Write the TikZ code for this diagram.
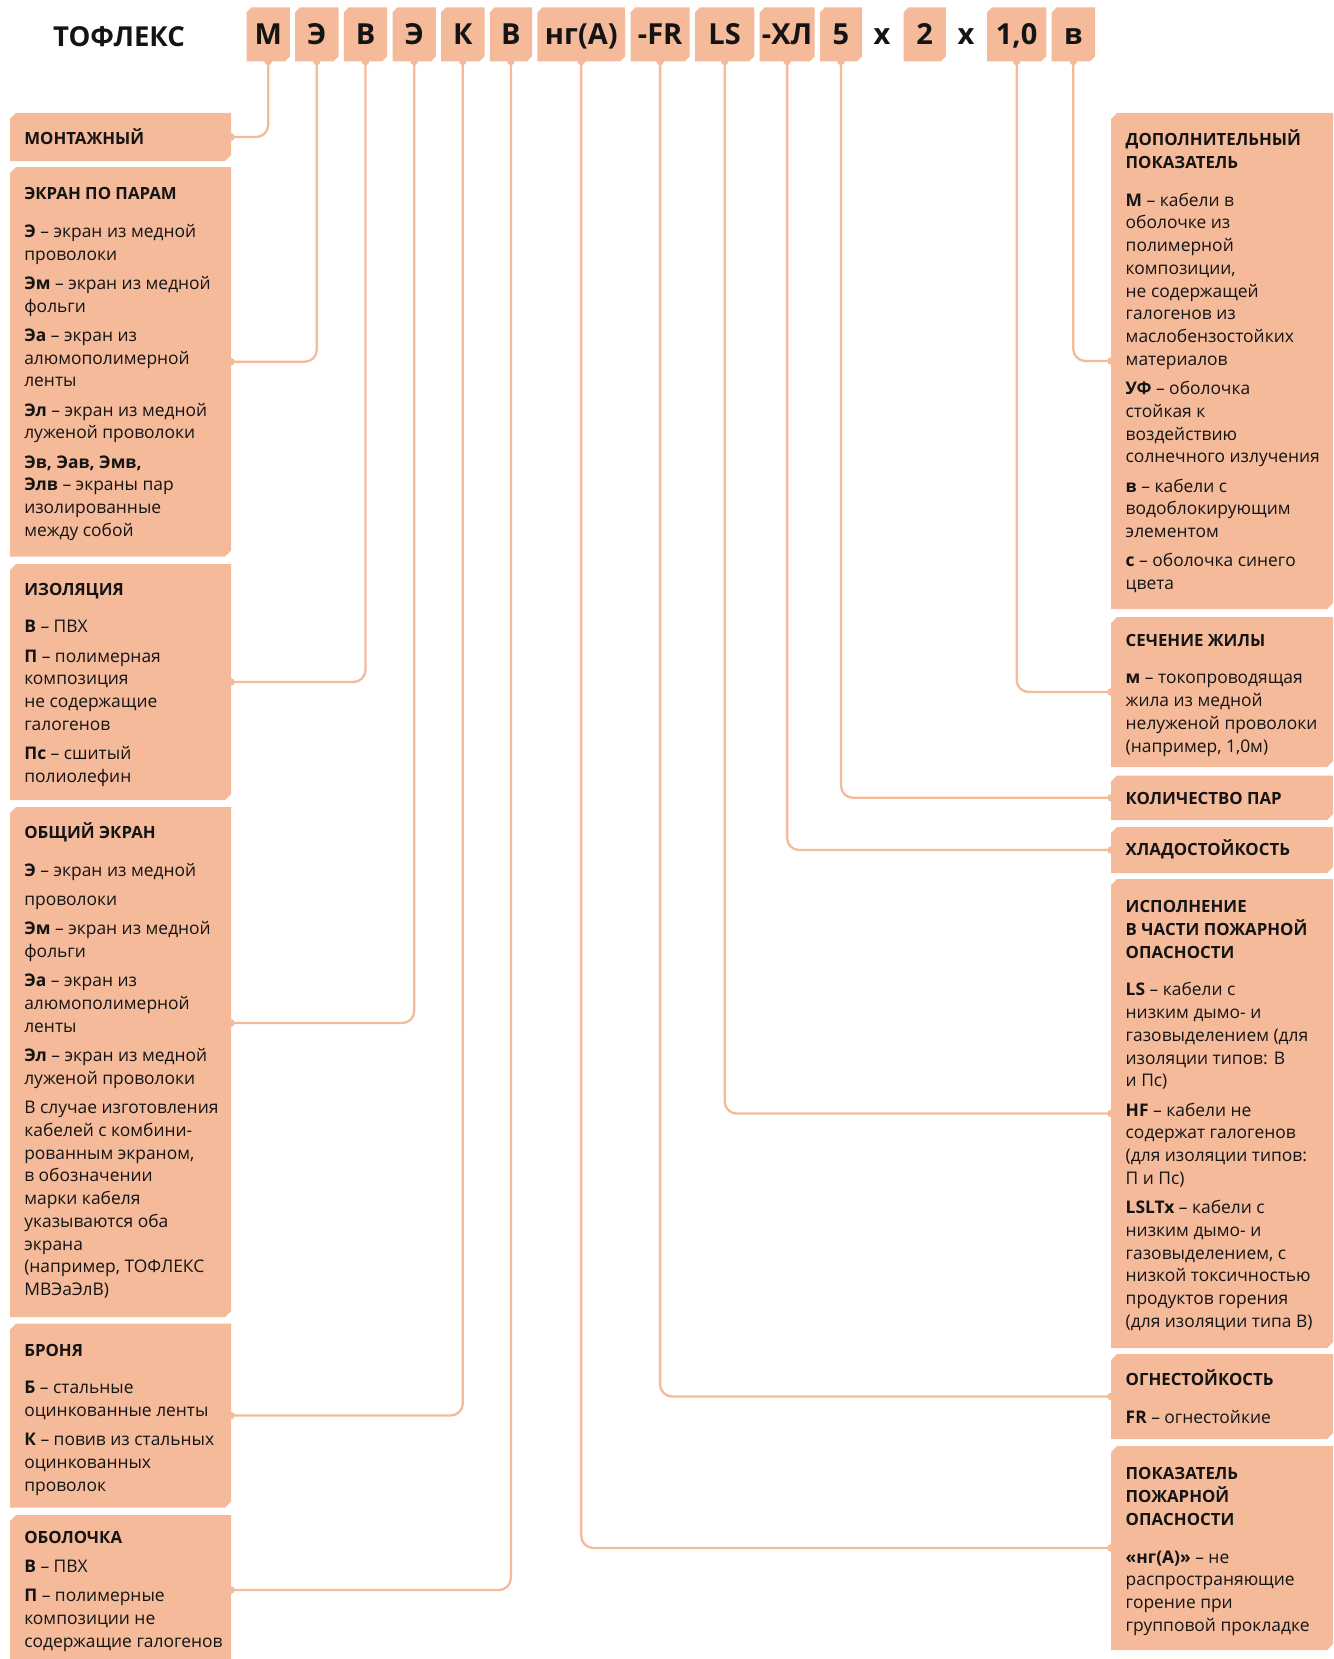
\documentclass[tikz,border=0pt]{standalone}
\usepackage{fontspec}
\setmainfont{Open Sans}
\usetikzlibrary{backgrounds}
\definecolor{salmon}{HTML}{F4BA9A}
\definecolor{ink}{HTML}{141414}
\newcommand\bodyfont{\fontsize{17.4}{22.75}\selectfont}
\newcommand\hdrfont{\fontsize{29}{34}\selectfont\bfseries}
\newcommand\titlefont{\fontsize{27.5}{34}\selectfont\bfseries}
\newcommand\hd[1]{{\fontsize{16.8}{22.75}\selectfont\bfseries #1}}
\tikzset{
  boxnode/.style={rectangle, inner sep=0pt, outer sep=0pt, draw=none, text=ink, font=\hdrfont, text height=20.7pt, text depth=0pt},
  boxfill/.style={fill=salmon},
  conn/.style={draw=salmon, line width=2.3pt, rounded corners=12pt},
  dotc/.style={fill=salmon},
  txt/.style={inner sep=0pt, outer sep=0pt, anchor=base west, text=ink, font=\bodyfont},
  hdr/.style={inner sep=0pt, outer sep=0pt, anchor=base, text=ink, font=\hdrfont},
}
% name, x1, y1, x2, y2, chamfer, text
\newcommand\mkbox[7]{%
  \node[boxnode, minimum width={(#4-#2)*1pt}, minimum height={(#5-#3)*1pt}, anchor=north west] (#1) at (#2,#3) {#7};
  \begin{pgfonlayer}{background}
  \fill[boxfill] ([yshift=-#6pt]#1.north west) -- ([xshift=#6pt]#1.north west) -- (#1.north east) -- ([yshift=#6pt]#1.south east) -- ([xshift=-#6pt]#1.south east) -- (#1.south west) -- cycle;
  \end{pgfonlayer}
}
\newcommand\lbl[1]{\parbox[t]{300pt}{\raggedright #1}}
\newcommand\gapA{\\[15pt]}
\newcommand\gapB{\\[6.5pt]}
\begin{document}
\begin{tikzpicture}[x=1pt,y=-1pt]
\useasboundingbox (0,0) rectangle (1333,1659);
\begin{pgfonlayer}{background}
\fill[white] (0,0) rectangle (1333,1659);
\end{pgfonlayer}

% title
\node[hdr, font=\titlefont] (title) at (119,47) {ТОФЛЕКС};
% header boxes
\mkbox{h1}{246.5}{7.4}{289.9}{61.4}{5}{М}
\mkbox{h2}{295}{7.4}{338.5}{61.4}{5}{Э}
\mkbox{h3}{343.8}{7.4}{387.2}{61.4}{5}{В}
\mkbox{h4}{392.5}{7.4}{435.9}{61.4}{5}{Э}
\mkbox{h5}{441}{7.4}{484.5}{61.4}{5}{К}
\mkbox{h6}{489.8}{7.4}{532}{61.4}{5}{В}
\mkbox{h7}{537.4}{7.4}{625.2}{61.4}{5}{нг(А)}
\mkbox{h8}{630.5}{7.4}{689.7}{61.4}{5}{-FR}
\mkbox{h9}{695}{7.4}{754.3}{61.4}{5}{LS}
\mkbox{h10}{759.6}{7.4}{814.6}{61.4}{5}{-ХЛ}
\mkbox{h11}{820}{7.4}{862}{61.4}{5}{5}
\node[hdr] (x1) at (882,45) {x};
\mkbox{h12}{903.5}{7.4}{945.8}{61.4}{5}{2}
\node[hdr] (x2) at (966,45) {x};
\mkbox{h13}{987}{7.4}{1046.3}{61.4}{5}{1,0}
\mkbox{h14}{1051.6}{7.4}{1095}{61.4}{5}{в}

% left boxes
\mkbox{lb1}{10}{113}{231}{161}{6}{}
\mkbox{lb2}{10}{167}{231}{556.5}{6}{}
\mkbox{lb3}{10}{564}{231}{800}{6}{}
\mkbox{lb4}{10}{807}{231}{1317}{6}{}
\mkbox{lb5}{10}{1323.5}{231}{1507.5}{6}{}
\mkbox{lb6}{10}{1515}{231}{1665}{6}{}
% right boxes
\mkbox{rb1}{1111}{113}{1333}{609}{6}{}
\mkbox{rb2}{1111}{617}{1333}{767}{6}{}
\mkbox{rb3}{1111}{775.5}{1333}{820}{6}{}
\mkbox{rb4}{1111}{827}{1333}{873}{6}{}
\mkbox{rb5}{1111}{879}{1333}{1348}{6}{}
\mkbox{rb6}{1111}{1354}{1333}{1439}{6}{}
\mkbox{rb7}{1111}{1446}{1333}{1650}{6}{}

% left texts
\node[txt] (lt1) at (24.3,144.7) {\lbl{\hd{МОНТАЖНЫЙ}}};
\node[txt] (lt2) at (24.3,199.7) {\lbl{\hd{ЭКРАН ПО ПАРАМ}\gapA
\textbf{Э} – экран из медной\\ проволоки\gapB
\textbf{Эм} – экран из медной\\ фольги\gapB
\textbf{Эа} – экран из\\ алюмополимерной\\ ленты\gapB
\textbf{Эл} – экран из медной\\ луженой проволоки\gapB
\textbf{Эв, Эав, Эмв,}\\ \textbf{Элв} – экраны пар\\ изолированные\\ между собой}};
\node[txt] (lt3) at (24.3,595) {\lbl{\hd{ИЗОЛЯЦИЯ}\gapA
\textbf{В} – ПВХ\gapB
\textbf{П} – полимерная\\ композиция\\ не содержащие\\ галогенов\gapB
\textbf{Пс} – сшитый\\ полиолефин}};
\node[txt] (lt4) at (24.3,838.7) {\lbl{\hd{ОБЩИЙ ЭКРАН}\gapA
\textbf{Э} – экран из медной\gapB
проволоки\gapB
\textbf{Эм} – экран из медной\\ фольги\gapB
\textbf{Эа} – экран из\\ алюмополимерной\\ ленты\gapB
\textbf{Эл} – экран из медной\\ луженой проволоки\gapB
В случае изготовления\\ кабелей с комбини-\\ рованным экраном,\\ в обозначении\\ марки кабеля\\ указываются оба\\ экрана\\ (например, ТОФЛЕКС\\ МВЭаЭлВ)}};
\node[txt] (lt5) at (24.3,1356) {\lbl{\hd{БРОНЯ}\gapA
\textbf{Б} – стальные\\ оцинкованные ленты\gapB
\textbf{К} – повив из стальных\\ оцинкованных\\ проволок}};
\node[txt] (lt6) at (24.3,1543) {\lbl{\hd{ОБОЛОЧКА}\gapB
\textbf{В} – ПВХ\gapB
\textbf{П} – полимерные\\ композиции не\\ содержащие галогенов}};

% right texts
\node[txt] (rt1) at (1125.7,145.7) {\lbl{\hd{ДОПОЛНИТЕЛЬНЫЙ}\\ \hd{ПОКАЗАТЕЛЬ}\gapA
\textbf{М} – кабели в\\ оболочке из\\ полимерной\\ композиции,\\ не содержащей\\ галогенов из\\ маслобензостойких\\ материалов\gapB
\textbf{УФ} – оболочка\\ стойкая к\\ воздействию\\ солнечного излучения\gapB
\textbf{в} – кабели с\\ водоблокирующим\\ элементом\gapB
\textbf{с} – оболочка синего\\ цвета}};
\node[txt] (rt2) at (1125.7,646) {\lbl{\hd{СЕЧЕНИЕ ЖИЛЫ}\gapA
\textbf{м} – токопроводящая\\ жила из медной\\ нелуженой проволоки\\ (например, 1,0м)}};
\node[txt] (rt3) at (1125.7,804.8) {\lbl{\hd{КОЛИЧЕСТВО ПАР}}};
\node[txt] (rt4) at (1125.7,855.6) {\lbl{\hd{ХЛАДОСТОЙКОСТЬ}}};
\node[txt] (rt5) at (1125.7,912.7) {\lbl{\hd{ИСПОЛНЕНИЕ}\\ \hd{В ЧАСТИ ПОЖАРНОЙ}\\ \hd{ОПАСНОСТИ}\gapA
\textbf{LS} – кабели с\\ низким дымо- и\\ газовыделением (для\\ изоляции типов: В\\ и Пс)\gapB
\textbf{HF} – кабели не\\ содержат галогенов\\ (для изоляции типов:\\ П и Пс)\gapB
\textbf{LSLTx} – кабели с\\ низким дымо- и\\ газовыделением, с\\ низкой токсичностью\\ продуктов горения\\ (для изоляции типа В)}};
\node[txt] (rt6) at (1125.7,1385.6) {\lbl{\hd{ОГНЕСТОЙКОСТЬ}\gapA
\textbf{FR} – огнестойкие}};
\node[txt] (rt7) at (1125.7,1479.8) {\lbl{\hd{ПОКАЗАТЕЛЬ}\\ \hd{ПОЖАРНОЙ}\\ \hd{ОПАСНОСТИ}\gapA
\textbf{«нг(А)»} – не\\ распространяющие\\ горение при\\ групповой прокладке}};

% connectors
\coordinate (c4) at (lb4.east |- 0,1023);
\draw[conn] (h1.south) |- (lb1.east);
\draw[conn] (h2.south) |- (lb2.east);
\draw[conn] (h3.south) |- (lb3.east);
\draw[conn] (h4.south) |- (c4);
\draw[conn] (h5.south) |- (lb5.east);
\draw[conn] (h6.south) |- (lb6.east);
\draw[conn] (h7.south) |- (rb7.west);
\draw[conn] (h8.south) |- (rb6.west);
\draw[conn] (h9.south) |- (rb5.west);
\draw[conn] (h10.south) |- (rb4.west);
\draw[conn] (h11.south) |- (rb3.west);
\draw[conn] (h13.south) |- (rb2.west);
\draw[conn] (h14.south) |- (rb1.west);
% dots
\foreach \p in {h1.south,h2.south,h3.south,h4.south,h5.south,h6.south,h7.south,h8.south,h9.south,h10.south,h11.south,h13.south,h14.south,
  lb1.east,lb2.east,lb3.east,c4,lb5.east,lb6.east,rb1.west,rb2.west,rb3.west,rb4.west,rb5.west,rb6.west,rb7.west}
  \fill[dotc] (\p) circle (3.8pt);
\end{tikzpicture}
\end{document}
